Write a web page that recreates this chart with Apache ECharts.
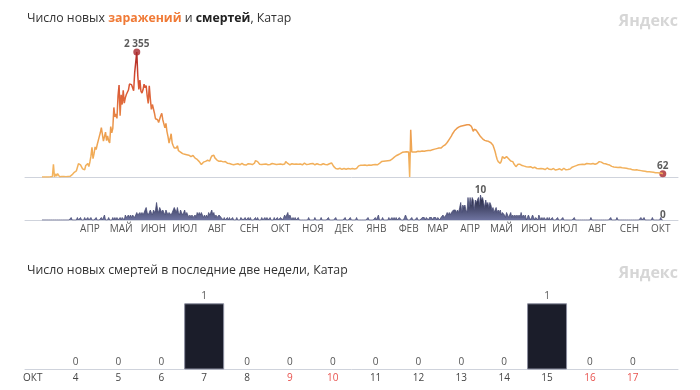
<!DOCTYPE html>
<html><head><meta charset="utf-8">
<script src="https://cdn.jsdelivr.net/npm/echarts@6/dist/echarts.min.js"></script>
<style>html,body{margin:0;padding:0;background:#fff}#c{width:700px;height:390px}</style>
</head><body><div id="c"></div>
<script>
// ---- data (daily, starting 29 Feb 2020) ----
const startY = 2020, startM = 1, startD = 29;
const monthNames = ['ЯНВ','ФЕВ','МАР','АПР','МАЙ','ИЮН','ИЮЛ','АВГ','СЕН','ОКТ','НОЯ','ДЕК'];

const cases_2020_02 = [1];
const cases_2020_03 = [1,0,4,1,1,1,0,3,3,9,238,0,58,17,64,38,3,10,8,10,11,13,7,25,11,12,13,28,44,59,88];
const cases_2020_04 = [54,114,126,250,279,228,225,153,166,136,216,251,252,197,283,392,560,345,440,567,518,608,623,761,833,929,957,677,643,845];
const cases_2020_05 = [687,776,679,640,951,830,918,1311,1130,1189,1103,1526,1733,1153,1547,1365,1632,1390,1491,1554,1550,1638,1751,1732,1740,1742,1624,1967,1993,2355,1901];
const cases_2020_06 = [1648,1826,1619,1581,1642,1750,1682,1723,1529,1387,1717,1476,1274,1365,1364,1201,1097,1100,1078,1028,1025,1154,1201,1079,1043,925,1010,855,760,640];
const cases_2020_07 = [720,815,640,590,545,520,545,590,495,510,470,450,440,445,430,415,420,395,410,400,385,420,405,395,355,340,330,310,290,260,235];
const cases_2020_08 = [265,280,310,295,330,315,340,300,355,395,370,410,360,340,320,305,295,290,300,280,285,275,290,270,260,245,255,235,240,225,230];
const cases_2020_09 = [235,240,225,250,245,230,240,255,245,230,240,225,235,250,240,245,230,235,250,260,310,320,290,255,240,245,235,230,240,250];
const cases_2020_10 = [245,240,230,250,235,240,255,230,245,240,235,250,240,230,245,240,235,250,245,290,275,255,240,230,245,250,235,240,230,245,250];
const cases_2020_11 = [240,235,245,255,230,240,260,250,235,245,240,230,250,245,255,240,230,235,250,245,235,240,230,245,250,240,235,245,230,240];
const cases_2020_12 = [250,280,265,240,200,170,160,155,150,160,165,150,145,155,160,150,145,150,160,155,150,145,160,155,150,165,160,190,210,205,220];
const cases_2021_01 = [215,220,210,225,220,215,230,225,215,220,225,230,220,235,225,230,240,255,270,290,285,295,290,300,295,305,300,310,320,335,350];
const cases_2021_02 = [370,385,400,410,420,435,440,455,465,460,470,465,475,470,470,0,890,470,475,470,480,470,475,485,470,480,475,490];
const cases_2021_03 = [480,485,490,495,490,500,505,500,510,515,520,525,530,535,540,545,550,545,565,580,595,605,620,650,680,710,735,770,810,845,870];
const cases_2021_04 = [890,910,925,940,945,955,960,965,970,975,980,985,990,985,995,960,920,860,900,920,880,850,820,790,762,740,720,700,690,685];
const cases_2021_05 = [680,670,668,655,645,637,600,540,480,400,330,290,275,258,300,384,370,350,353,384,360,345,320,300,321,290,250,230,195,220,240];
const cases_2021_06 = [258,240,226,215,220,205,210,195,200,190,185,195,180,170,175,185,165,160,170,155,150,160,145,155,150,140,160,170,150,145];
const cases_2021_07 = [150,140,135,160,145,130,150,140,135,155,145,130,140,165,150,135,145,140,160,150,170,185,195,200,210,215,226,230,240,235,245];
const cases_2021_08 = [240,250,235,245,255,240,250,260,245,235,255,250,240,260,255,270,290,308,280,265,255,240,250,230,235,220,226,210,200,195,190];
const cases_2021_09 = [195,185,190,180,175,185,170,175,165,170,160,165,150,155,145,150,140,135,145,130,125,135,120,125,115,120,110,115,105,110];
const cases_2021_10 = [105,100,95,100,90,95,85,90,88,80,85,78,82,75,80,70,62];

const deaths_2020_02 = [0];
const deaths_2020_03 = [0,0,0,0,0,0,0,0,0,0,0,0,0,0,0,0,0,0,0,0,0,0,0,0,0,0,0,1,0,0,0];
const deaths_2020_04 = [0,0,1,0,0,1,0,0,0,1,0,0,1,0,0,1,0,0,0,0,1,0,0,0,0,1,0,0,2,0];
const deaths_2020_05 = [0,0,1,0,0,0,1,0,1,0,1,0,0,1,0,1,1,0,2,1,1,2,1,2,1,2,2,1,2,3,2];
const deaths_2020_06 = [2,3,2,3,2,3,4,5,3,2,3,4,3,2,4,3,4,7,4,3,5,4,3,4,3,2,4,3,2,3];
const deaths_2020_07 = [3,2,3,4,5,4,3,5,3,2,4,3,2,3,4,2,3,2,1,2,1,2,1,1,2,1,3,2,3,2,3];
const deaths_2020_08 = [2,1,2,1,2,1,3,2,3,4,2,3,1,2,1,1,2,2,1,1,0,1,0,0,1,0,1,0,0,1,0];
const deaths_2020_09 = [0,0,1,0,0,0,1,1,0,0,1,0,0,1,0,1,0,0,0,0,1,0,1,0,0,0,1,0,0,1];
const deaths_2020_10 = [0,1,0,0,1,0,0,0,1,0,0,1,0,0,1,1,0,1,2,1,2,3,1,2,1,0,1,0,1,0,0];
const deaths_2020_11 = [1,0,0,0,0,0,0,0,0,0,1,0,0,0,0,0,1,0,0,0,0,0,1,0,0,0,0,0,0,1];
const deaths_2020_12 = [0,0,0,0,0,0,1,0,0,0,0,0,0,0,0,1,0,0,0,0,1,0,0,0,0,0,1,0,0,0,0];
const deaths_2021_01 = [0,0,0,0,0,0,1,0,0,0,0,0,0,1,0,0,2,0,0,0,1,0,0,0,0,0,1,0,0,1,0];
const deaths_2021_02 = [1,0,1,0,0,1,1,0,0,0,1,2,1,0,0,0,0,1,0,0,0,0,1,0,0,0,0,1];
const deaths_2021_03 = [1,1,0,1,1,0,1,1,1,0,1,1,1,0,1,1,0,1,1,2,1,1,2,3,2,3,2,3,3,4,4];
const deaths_2021_04 = [4,3,4,3,5,7,3,6,5,6,4,3,9,5,9,6,9,8,4,8,7,8,9,6,10,8,9,7,5,8];
const deaths_2021_05 = [6,7,5,7,6,4,5,3,4,5,3,4,3,4,2,3,3,2,1,3,2,1,2,3,1,2,1,2,1,2,1];
const deaths_2021_06 = [2,1,3,1,2,1,2,0,1,2,1,0,1,2,1,0,1,1,0,2,1,0,1,0,1,1,0,1,0,1];
const deaths_2021_07 = [0,0,1,0,0,0,0,1,0,0,0,0,1,0,0,0,0,0,0,0,0,0,0,1,0,0,0,0,0,0,0];
const deaths_2021_08 = [0,0,0,0,0,0,0,0,1,0,0,0,0,0,0,0,0,0,0,0,0,0,0,0,0,0,0,1,0,0,0];
const deaths_2021_09 = [0,0,1,0,0,0,0,0,0,0,0,0,0,0,0,0,0,0,0,0,0,0,0,0,0,1,0,0,1,0];
const deaths_2021_10 = [0,0,0,0,0,0,1,0,0,0,0,0,0,0,1,0,0];

const barMonth = 'ОКТ';
const barDays = ['4','5','6','7','8','9','10','11','12','13','14','15','16','17'];
const barValues = [0,0,0,1,0,0,0,0,0,0,0,1,0,0];
const weekendDays = ['9','10','16','17'];

// ---- assemble ----
const casesDaily = [].concat(cases_2020_02,cases_2020_03,cases_2020_04,cases_2020_05,cases_2020_06,cases_2020_07,cases_2020_08,cases_2020_09,cases_2020_10,cases_2020_11,cases_2020_12,cases_2021_01,cases_2021_02,cases_2021_03,cases_2021_04,cases_2021_05,cases_2021_06,cases_2021_07,cases_2021_08,cases_2021_09,cases_2021_10);
const deathsDaily = [].concat(deaths_2020_02,deaths_2020_03,deaths_2020_04,deaths_2020_05,deaths_2020_06,deaths_2020_07,deaths_2020_08,deaths_2020_09,deaths_2020_10,deaths_2020_11,deaths_2020_12,deaths_2021_01,deaths_2021_02,deaths_2021_03,deaths_2021_04,deaths_2021_05,deaths_2021_06,deaths_2021_07,deaths_2021_08,deaths_2021_09,deaths_2021_10);

const DAY = 86400000;
const t0 = Date.UTC(startY, startM, startD);
const n = casesDaily.length;
const labelDays = [], labelMap = {};
for (let y = 2020, m = 3; ; ) {
  const d = Math.round((Date.UTC(y, m, 15) - t0) / DAY);
  if (d > n - 1 + 5) break;
  labelDays.push(d); labelMap[d] = monthNames[m];
  m++; if (m > 11) { m = 0; y++; }
}

const fmt = v => String(v).replace(/\B(?=(\d{3})+(?!\d))/g, ' ');
const cMax = Math.max(...casesDaily), cMaxIdx = casesDaily.indexOf(cMax);
const dMax = Math.max(...deathsDaily), dMaxIdx = deathsDaily.indexOf(dMax);

const FONT = '"Open Sans", "Noto Sans", sans-serif';
const TS = 12.3;
const xMin = -16.3, xMax = n - 1 + 14.6;
const axisLineColor = '#cfd3dc';

const chart = echarts.init(document.getElementById('c'), null, {renderer: 'canvas'});
chart.setOption({
  animation: false,
  textStyle: {fontFamily: FONT},
  title: [
    {left: 27, top: 12, padding: 0,
     text: '{a|Число новых }{o|заражений}{a| и }{b|смертей}{a|, Катар}',
     textStyle: {fontWeight: 'normal', fontSize: TS, rich: {
       a: {fontSize: TS, color: '#333', fontWeight: 'normal', fontFamily: FONT},
       o: {fontSize: TS, color: '#f07a36', fontWeight: 'bold', fontFamily: FONT},
       b: {fontSize: TS, color: '#222', fontWeight: 'bold', fontFamily: FONT}}}},
    {right: 22, top: 13, padding: 0, text: 'Яндекс',
     textStyle: {fontSize: 16, fontWeight: 'bold', color: '#d6d6d6', fontFamily: FONT}},
    {left: 27, top: 264, padding: 0, text: 'Число новых смертей в последние две недели, Катар',
     textStyle: {fontSize: TS, fontWeight: 'normal', color: '#333', fontFamily: FONT}},
    {right: 22, top: 265, padding: 0, text: 'Яндекс',
     textStyle: {fontSize: 16, fontWeight: 'bold', color: '#d6d6d6', fontFamily: FONT}}
  ],
  grid: [
    {left: 25, right: 22, top: 52, height: 125},
    {left: 25, right: 22, top: 195, height: 25},
    {left: 11.3, width: 642.9, top: 303.3, height: 66.2},
    {left: 25, right: 22, top: 303.3, height: 66.2}
  ],
  xAxis: [
    {type: 'value', gridIndex: 0, min: xMin, max: xMax,
     axisLine: {show: true, lineStyle: {color: axisLineColor}}, axisTick: {show: false},
     axisLabel: {show: false}, splitLine: {show: false}},
    {type: 'value', gridIndex: 1, min: xMin, max: xMax,
     axisLine: {show: true, lineStyle: {color: axisLineColor}}, axisTick: {show: false},
     axisLabel: {show: true, customValues: labelDays, formatter: v => labelMap[Math.round(v)] || '',
       color: '#555', fontSize: 10, margin: 4, fontFamily: FONT}, splitLine: {show: false}},
    {type: 'category', gridIndex: 2, data: [barMonth].concat(barDays),
     axisLine: {show: false}, axisTick: {show: false},
     axisLabel: {interval: 0, fontSize: 10, margin: 4, fontFamily: FONT,
       color: (v) => weekendDays.indexOf(v) >= 0 ? '#e8534f' : '#444'}},
    {type: 'value', gridIndex: 3, min: 0, max: 1,
     axisLine: {show: true, lineStyle: {color: axisLineColor}}, axisTick: {show: false},
     axisLabel: {show: false}, splitLine: {show: false}}
  ],
  yAxis: [
    {type: 'value', gridIndex: 0, min: 0, max: 'dataMax', show: false},
    {type: 'value', gridIndex: 1, min: 0, max: 'dataMax', show: false},
    {type: 'value', gridIndex: 2, min: 0, max: 'dataMax', show: false},
    {type: 'value', gridIndex: 3, min: 0, max: 1, show: false}
  ],
  visualMap: [{
    type: 'continuous', show: false, seriesIndex: 0, dimension: 1, min: 0, max: cMax,
    inRange: {color: ['#f3b560', '#f0aa56', '#ec9a4c', '#e06a3c', '#d44a30', '#a82626']}
  }],
  series: [
    {type: 'line', xAxisIndex: 0, yAxisIndex: 0, symbol: 'none', lineStyle: {width: 1.5},
     data: casesDaily.map((v, i) => [i, v])},
    {type: 'scatter', xAxisIndex: 0, yAxisIndex: 0, symbolSize: 7, itemStyle: {color: '#a8262a'},
     label: {show: true, position: 'top', distance: -1, lineHeight: 10, formatter: p => fmt(p.value[1]),
       fontSize: 10, fontWeight: 'bold', color: '#333', fontFamily: FONT},
     data: [[cMaxIdx, cMax], [n - 1, casesDaily[n - 1]]]},
    {type: 'line', xAxisIndex: 1, yAxisIndex: 1, symbol: 'none',
     lineStyle: {width: 0.8, color: '#4b4f78'},
     areaStyle: {opacity: 1, color: new echarts.graphic.LinearGradient(0, 0, 0, 1, [
       {offset: 0, color: '#1c1e34'}, {offset: 1, color: '#6e73a0'}])},
     data: deathsDaily.map((v, i) => [i, v])},
    {type: 'scatter', xAxisIndex: 1, yAxisIndex: 1, symbolSize: 1, itemStyle: {color: 'rgba(0,0,0,0)'},
     label: {show: true, position: 'top', distance: -1, lineHeight: 10, formatter: p => fmt(p.value[1]),
       fontSize: 10, fontWeight: 'bold', color: '#333', fontFamily: FONT},
     data: [[dMaxIdx, dMax], [n - 1, deathsDaily[n - 1]]]},
    {type: 'bar', xAxisIndex: 2, yAxisIndex: 2, barWidth: 40,
     itemStyle: {color: '#1b1d2a', borderColor: '#8d8fa0', borderWidth: 1},
     label: {show: true, position: 'top', distance: 2, lineHeight: 10, fontSize: 10, color: '#555', fontFamily: FONT},
     data: ['-'].concat(barValues.map(v => v === 0 ? {value: v, itemStyle: {borderWidth: 0}} : v))}
  ]
});
</script></body></html>
